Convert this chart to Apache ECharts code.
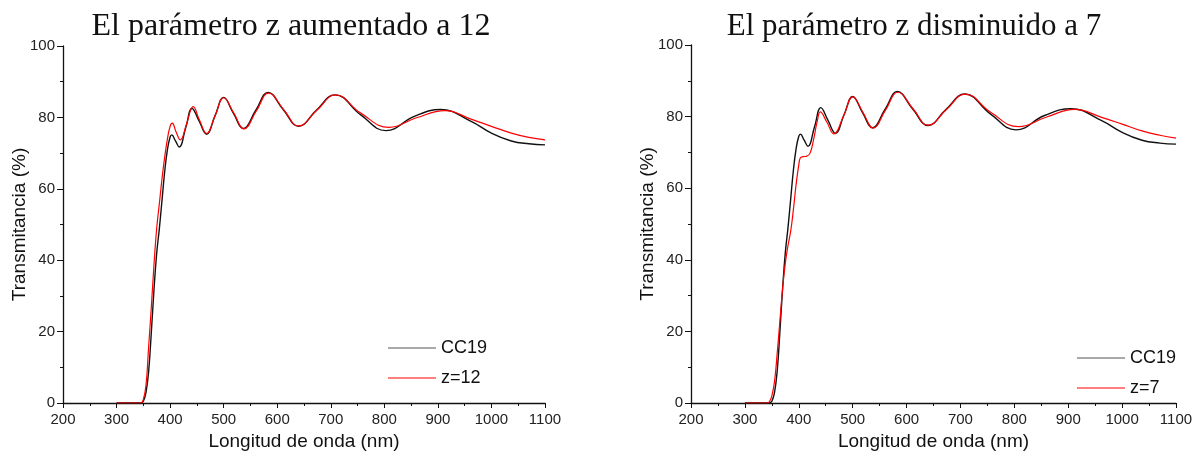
<!DOCTYPE html>
<html>
<head>
<meta charset="utf-8">
<script src="https://cdn.jsdelivr.net/npm/echarts@6/dist/echarts.min.js"></script>
<style>
  html, body { margin: 0; padding: 0; background: #fff; }
  #chart { width: 1200px; height: 459px; }
</style>
</head>
<body>
<div id="chart"></div>
<script>
// titulos de cada panel
const titles = ['El parámetro z aumentado a 12', 'El parámetro z disminuido a 7']

// CC19 (muestra medida), igual en los dos paneles
const wlCC19 = [300, 345, 350, 355, 360, 365, 370, 375, 380, 385, 390, 395, 400, 403, 410, 417, 429, 441, 454, 468, 484, 500, 518, 537, 560, 583, 611, 640, 673, 708, 756, 803, 856, 905, 962, 1000, 1037, 1070, 1100]
const tCC19 = [0, 0, 0.5, 3, 9, 20, 32, 42, 49, 57, 65, 71, 74.5, 75.1, 73.4, 71.7, 77, 82.5, 79, 75.3, 80.5, 85.6, 81.2, 76.9, 82, 87, 82.2, 77.5, 82, 86.3, 80.7, 76.3, 80.3, 82.2, 78.9, 75.6, 73.4, 72.6, 72.3]

// z = 12
const wlZ12 = [300, 345, 350, 355, 360, 365, 370, 375, 380, 385, 390, 395, 400, 404, 411, 419, 431, 443, 455, 468, 484, 500, 519, 538, 561, 584, 612, 640, 674, 709, 756, 809, 860, 913, 962, 1000, 1037, 1070, 1100]
const tZ12 = [0, 0, 1, 5, 16, 27, 39, 49, 56, 63, 69, 74, 77.5, 78.4, 76, 73.7, 78.3, 83, 79.2, 75.5, 80.5, 85.5, 81.2, 76.8, 81.8, 86.8, 82.2, 77.6, 82, 86.3, 81.2, 77.2, 79.9, 81.9, 79.5, 77.5, 75.6, 74.4, 73.7]

// z = 7
const wlZ7 = [300, 342, 346, 350, 355, 360, 365, 370, 375, 380, 385, 390, 395, 400, 403, 408, 414, 421, 428, 434, 440, 452, 465, 484, 500, 519, 538, 561, 584, 612, 640, 674, 709, 756, 808, 860, 912, 962, 1000, 1037, 1070, 1100]
const tZ7 = [0, 0, 0.5, 2, 6, 14, 23, 32, 39, 44, 48, 54, 61, 66.5, 68.5, 68.8, 68.9, 69.8, 74, 78.5, 81.3, 78.5, 75.2, 80.5, 85.5, 81.2, 76.8, 81.8, 86.8, 82.2, 77.6, 82, 86.3, 81.2, 77.2, 79.9, 82, 79.8, 77.9, 76, 74.8, 74]

const xName = 'Longitud de onda (nm)'
const yName = 'Transmitancia (%)'

const pairs = (xs, ys) => xs.map((x, i) => [x, ys[i]])

const sansFont = '"Liberation Sans", Arial, sans-serif'
const serifFont = '"Liberation Serif", serif'
const axisColor = '#111'

function xAxisFor(idx) {
  return {
    type: 'value', gridIndex: idx, min: 200, max: 1100, interval: 100,
    name: xName, nameLocation: 'middle', nameGap: 28,
    nameTextStyle: { fontFamily: sansFont, fontSize: 19, color: '#111' },
    axisLine: { show: true, lineStyle: { color: axisColor, width: 1.3 } },
    axisTick: { show: true, length: 5, lineStyle: { color: axisColor } },
    minorTick: { show: true, splitNumber: 2, length: 3, lineStyle: { color: axisColor } },
    axisLabel: { fontFamily: sansFont, fontSize: 15, color: '#222', margin: 9, formatter: v => String(v) },
    splitLine: { show: false }
  }
}

function yAxisFor(idx) {
  return {
    type: 'value', gridIndex: idx, min: 0, max: 100, interval: 20,
    name: yName, nameLocation: 'middle', nameGap: 34, nameMoveOverlap: false,
    nameTextStyle: { fontFamily: sansFont, fontSize: 19, color: '#111' },
    axisLine: { show: true, lineStyle: { color: axisColor, width: 1.3 } },
    axisTick: { show: true, length: 6, lineStyle: { color: axisColor } },
    minorTick: { show: true, splitNumber: 2, length: 3, lineStyle: { color: axisColor } },
    axisLabel: { fontFamily: sansFont, fontSize: 15, color: '#222', margin: 8 },
    splitLine: { show: false }
  }
}

function line(name, idx, data, color, width) {
  return {
    name: name, type: 'line', xAxisIndex: idx, yAxisIndex: idx,
    data: data, showSymbol: false, symbol: 'none', smooth: 0.45,
    lineStyle: { color: color, width: width }, itemStyle: { color: color },
    z: color === '#ff0000' ? 3 : 2
  }
}

const legendBase = {
  orient: 'vertical', icon: 'rect', itemWidth: 48, itemHeight: 1.2, itemGap: 12,
  textStyle: { fontFamily: sansFont, fontSize: 18, color: '#111' }
}

const titleStyle = { fontFamily: serifFont, fontSize: 32, fontWeight: 'normal', color: '#111' }

const chart = echarts.init(document.getElementById('chart'))
chart.setOption({
  animation: false,
  backgroundColor: '#fff',
  title: [
    { text: titles[0], left: 286, top: 6, textAlign: 'center', textStyle: titleStyle },
    { text: titles[1], left: 909, top: 6, textAlign: 'center', textStyle: Object.assign({}, titleStyle, { fontSize: 31 }) }
  ],
  grid: [
    { left: 63, right: 655, top: 46, bottom: 56 },
    { left: 691, right: 24, top: 45, bottom: 56 }
  ],
  xAxis: [xAxisFor(0), xAxisFor(1)],
  yAxis: [yAxisFor(0), yAxisFor(1)],
  legend: [
    Object.assign({}, legendBase, { data: [{ name: 'CC19', itemStyle: { color: '#555' } }, 'z=12'], left: 383, top: 334 }),
    Object.assign({}, legendBase, { data: [{ name: 'CC19', itemStyle: { color: '#555' } }, 'z=7'], left: 1072, top: 344 })
  ],
  series: [
    line('CC19', 0, pairs(wlCC19, tCC19), '#111111', 1.4),
    line('z=12', 0, pairs(wlZ12, tZ12), '#ff0000', 1.2),
    line('CC19', 1, pairs(wlCC19, tCC19), '#111111', 1.4),
    line('z=7', 1, pairs(wlZ7, tZ7), '#ff0000', 1.2)
  ]
})
</script>
</body>
</html>
